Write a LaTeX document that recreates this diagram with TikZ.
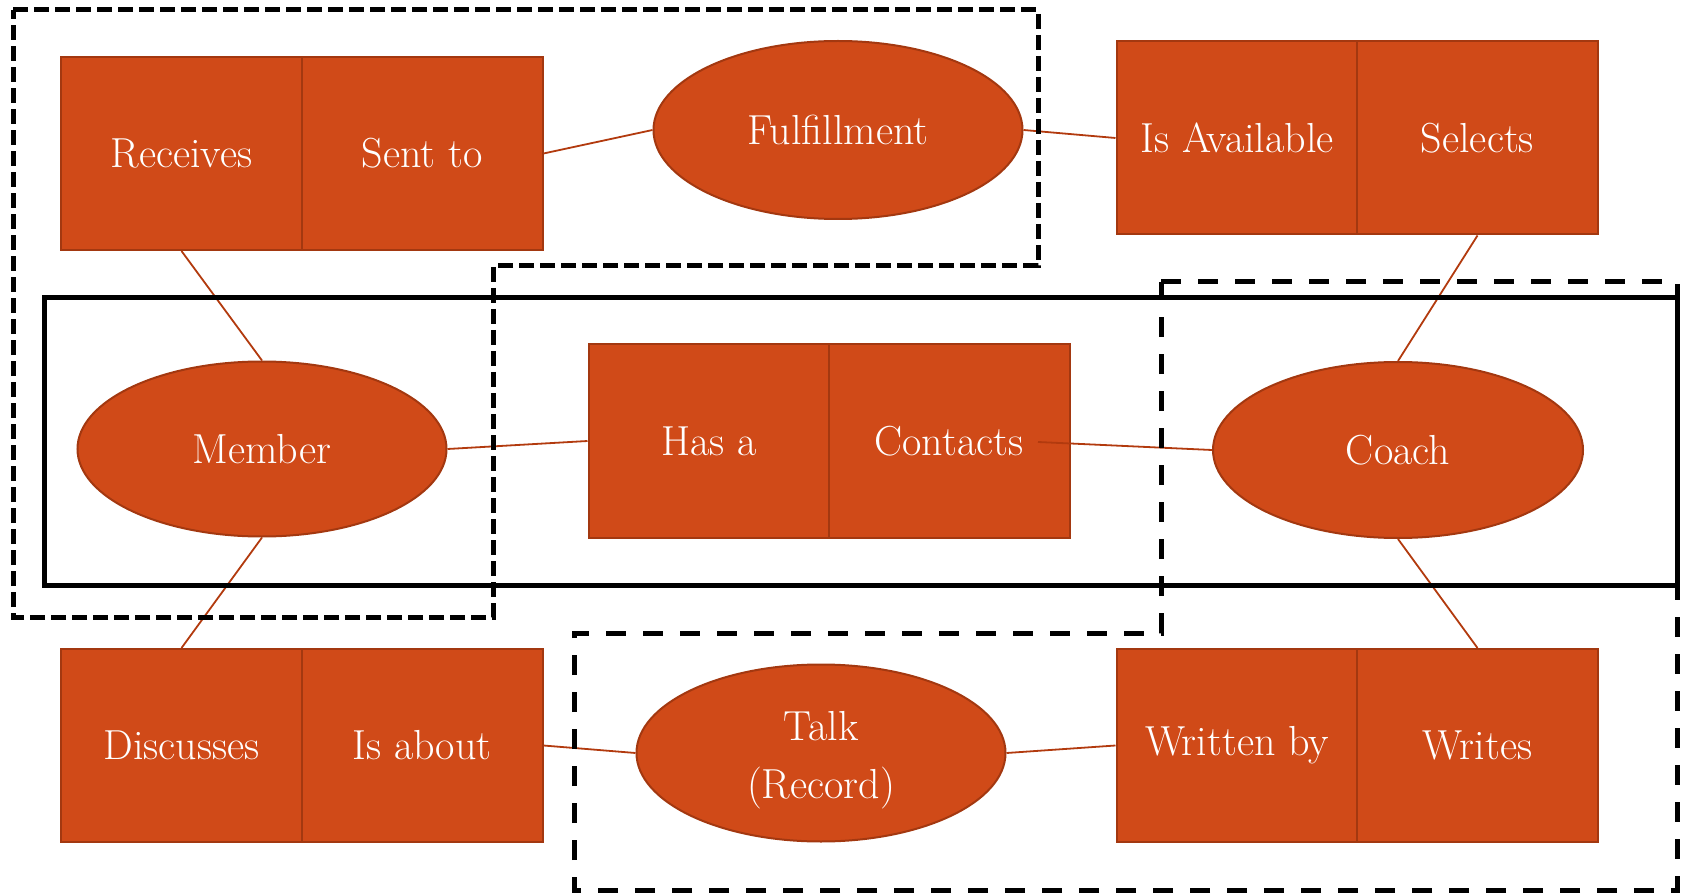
\documentclass[tikz,border=0pt]{standalone}
\usepackage{fontspec}
\usetikzlibrary{shapes.geometric}

\definecolor{boxfill}{RGB}{208,74,24}
\definecolor{boxedge}{RGB}{163,56,16}
\definecolor{linkc}{RGB}{178,58,14}

\tikzset{
  cellbox/.style={rectangle, draw=boxedge, fill=boxfill, line width=2pt,
    minimum width=241pt, minimum height=193pt, inner sep=0pt,
    text=white, font=\fontsize{42}{58}\selectfont},
  entity/.style={ellipse, draw=boxedge, fill=boxfill, line width=2pt,
    minimum width=369pt, minimum height=177pt, inner sep=0pt,
    text=white, align=center, font=\fontsize{42}{58}\selectfont},
  link/.style={draw=linkc, line width=1.8pt},
  groupA/.style={draw=black, line width=5pt, dash pattern=on 15pt off 6pt},
  groupB/.style={draw=black, line width=5pt, dash pattern=on 20pt off 17pt},
  frame/.style={draw=black, line width=5pt}
}

\begin{document}
\begin{tikzpicture}[x=1pt, y=-1pt]
\useasboundingbox (0,0) rectangle (1682,893);

% relationship tables: two cells side by side
\node[cellbox] (recv)    at (181.5,153.5) {Receives};
\node[cellbox] (sent)    at (422,153.5)   {Sent to};
\node[cellbox] (avail)   at (1237,138)    {Is Available};
\node[cellbox] (sel)     at (1477.5,138)  {Selects};
\node[cellbox] (hasa)    at (709,441)     {Has a};
\node[cellbox] (contact) at (949,441)     {Contacts};
\node[cellbox] (disc)    at (181.5,745.5) {Discusses};
\node[cellbox] (about)   at (422,745.5)   {Is about};
\node[cellbox] (wrby)    at (1237,745.5)  {Written by};
\node[cellbox] (writes)  at (1477.5,745.5){Writes};

% entities
\node[entity, minimum height=178pt] (ful)   at (838,130) {Fulfillment};
\node[entity, minimum height=175pt] (mem)   at (262,449) {Member};
\node[entity, minimum width=370pt, minimum height=176pt] (coach) at (1398,450) {Coach};
\node[entity] (talk)  at (821,753)
  {\raisebox{-5pt}[\height][\depth]{\begin{tabular}{@{}c@{}}Talk\\(Record)\end{tabular}}};

\coordinate (cstart) at (1038,442);

% connectors
\draw[link] (sent.east) -- (ful.west);
\draw[link] (ful.east) -- (avail.west);
\draw[link] (recv.south) -- (mem.north);
\draw[link] (mem.south) -- (disc.north);
\draw[link] (mem.east) -- (hasa.west);
\draw[link] (cstart) -- (coach.west);
\draw[link] (sel.south) -- (coach.north);
\draw[link] (coach.south) -- (writes.north);
\draw[link] (about.east) -- (talk.west);
\draw[link] (talk.east) -- (wrby.west);

% grouping outlines
\draw[groupA] (13,10) -- (1038,10) -- (1038,266) -- (493,266) -- (493,617) -- (13,617) -- cycle;
\draw[groupB] (1161,282) -- (1677,282) -- (1677,890) -- (574,890) -- (574,633) -- (1161,633) -- cycle;
\draw[frame] (44,298) rectangle (1677,585);
\end{tikzpicture}
\end{document}
